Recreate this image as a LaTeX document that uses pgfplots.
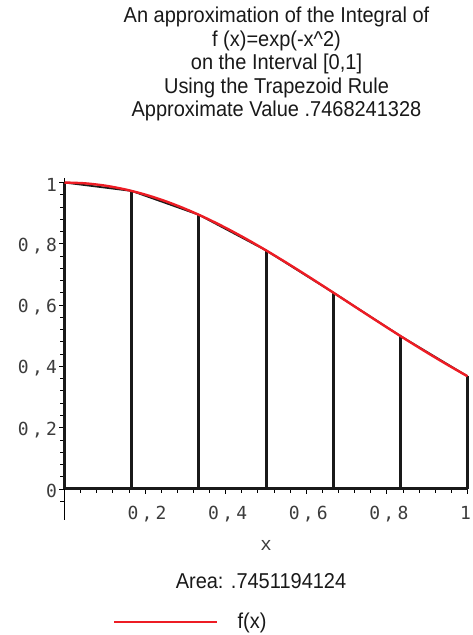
\documentclass[border=0pt]{standalone}
\usepackage{pgfplots}
\pgfplotsset{compat=1.18}
\usepackage{fontspec}
\setmainfont{Liberation Sans}
\newfontfamily\titlefont[FakeStretch=0.93]{Liberation Sans}
\newfontfamily\tickfont[LetterSpace=18]{DejaVu Sans Mono}
\newfontfamily\xfont{Liberation Mono}
\definecolor{curvered}{RGB}{237,28,36}
\definecolor{ticktext}{RGB}{60,60,60}
\begin{document}
\begin{tikzpicture}
\path[use as bounding box] (0,0) rectangle (473bp,635bp);
\begin{axis}[
  at={(64.5bp,146bp)}, anchor=origin,
  scale only axis, width=403bp, height=342bp,
  xmin=0, xmax=1, ymin=-0.101, ymax=1.015,
  axis lines=middle,
  axis line style={-, line width=0.9bp},
  tick align=outside,
  hide obscured y ticks=false,
  xtick={0.2,0.4,0.6,0.8,1},
  xticklabels={{0,2},{0,4},{0,6},{0,8},\makebox[0pt]{\hspace*{-8bp}1}},
  ytick={0,0.2,0.4,0.6,0.8,1},
  yticklabels={0,{0,2},{0,4},{0,6},{0,8},1},
  minor xtick={0.04,0.08,0.12,0.16,0.24,0.28,0.32,0.36,0.44,0.48,0.52,0.56,0.64,0.68,0.72,0.76,0.84,0.88,0.92,0.96},
  minor ytick={-0.04,0.04,0.08,0.12,0.16,0.24,0.28,0.32,0.36,0.44,0.48,0.52,0.56,0.64,0.68,0.72,0.76,0.84,0.88,0.92,0.96},
  major tick length=5bp, minor tick length=4bp,
  every tick/.style={line width=0.9bp, black},
  tick label style={font=\tickfont\fontsize{18bp}{18bp}\selectfont, text=ticktext},
  xticklabel style={yshift=-9bp, xshift=2bp},
  yticklabel style={xshift=1bp, yshift=-2bp},
  clip=false,
  legend style={at={(axis description cs:0.1203,-0.298)}, anchor=west, draw=none, fill=none, inner sep=0pt,
    font=\titlefont\fontsize{21.5bp}{24bp}\selectfont, text=black!90,
    /tikz/every odd column/.append style={column sep=17bp}},
  legend image code/.code={\draw[#1] (0bp,0bp) -- (103bp,0bp);},
]
\addplot[ycomb, black!90, line width=3bp, forget plot] coordinates {
 (0,1) (0.166667,0.97260) (0.333333,0.89484) (0.5,0.77880) (0.666667,0.64118) (0.833333,0.49935) (1,0.36788)};
\addplot[black!90, line width=3bp, forget plot] coordinates {(0,0) (1,0)};
\addplot[black!90, line width=1.8bp, forget plot] coordinates {
 (0,1) (0.166667,0.97260) (0.333333,0.89484) (0.5,0.77880) (0.666667,0.64118) (0.833333,0.49935) (1,0.36788)};
\addplot[curvered, line width=2.4bp, smooth] coordinates {
 (0,1) (0.05,0.99750) (0.1,0.99005) (0.15,0.97775) (0.2,0.96079) (0.25,0.93941)
 (0.3,0.91393) (0.35,0.88471) (0.4,0.85214) (0.45,0.81669) (0.5,0.77880)
 (0.55,0.73897) (0.6,0.69768) (0.65,0.65541) (0.7,0.61263) (0.75,0.56978)
 (0.8,0.52729) (0.85,0.48554) (0.9,0.44486) (0.95,0.40559) (1,0.36788)};
\addlegendentry{f(x)}
\end{axis}
\begin{scope}[every node/.style={anchor=base, inner sep=0pt, text=black!90, font=\titlefont\fontsize{21.5bp}{24bp}\selectfont}]
\node at (276.5bp,612bp) {An approximation of the Integral of};
\node at (276.5bp,588.5bp) {f (x)=exp(-x\^{}2)};
\node at (276.5bp,565bp) {on the Interval [0,1]};
\node at (276.5bp,541.5bp) {Using the Trapezoid Rule};
\node at (276.5bp,518bp) {Approximate Value .7468241328};
\node at (261bp,46bp) {Area: .7451194124};
\end{scope}
\node[inner sep=0pt, text=ticktext, font=\xfont\fontsize{19bp}{19bp}\selectfont] at (266bp,90bp) {x};
\end{tikzpicture}
\end{document}
